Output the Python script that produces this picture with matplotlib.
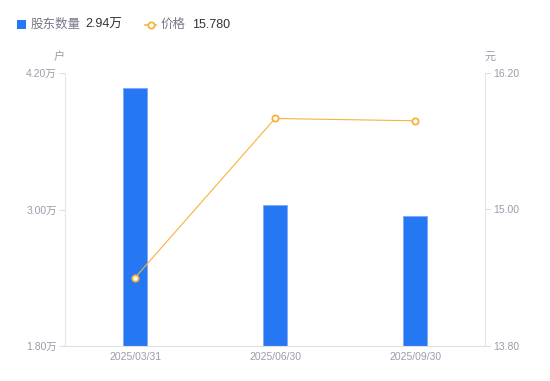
import matplotlib
matplotlib.use("Agg")
import matplotlib.pyplot as plt
from matplotlib.lines import Line2D

plt.rcParams['font.family'] = ['Liberation Sans', 'Noto Sans CJK SC', 'DejaVu Sans']

categories = ["2025/03/31", "2025/06/30", "2025/09/30"]
holders = [4.07, 3.04, 2.94]   # 万户
price = [14.40, 15.80, 15.78]
left_ticks = [1.80, 3.00, 4.20]
right_ticks = [13.80, 15.00, 16.20]

bar_color = "#2677f4"
line_color = "#f7b23b"
tick_color = "#9b9bab"

fig = plt.figure(figsize=(5.5, 3.81), dpi=100)
ax = fig.add_axes([65/550, 1-346/381, 420/550, 273/381])
x = list(range(len(categories)))
ax.bar(x, holders, width=0.175, color=bar_color, edgecolor="#7fa9f2", linewidth=0.6, zorder=2)
ax.set_xlim(-0.5, 2.5)
ax.set_ylim(1.80, 4.20)
ax.set_yticks(left_ticks)
ax.set_yticklabels([f"{v:.2f}万" for v in left_ticks])
ax.set_xticks(x)
ax.set_xticklabels(categories)

ax2 = ax.twinx()
ax2.plot(x, price, color=line_color, linewidth=0.8, marker="o", markersize=4.5,
         markerfacecolor="white", markeredgecolor=line_color, markeredgewidth=1.3, zorder=3)
ax2.set_ylim(13.80, 16.20)
ax2.set_yticks(right_ticks)
ax2.set_yticklabels([f"{v:.2f}" for v in right_ticks])

for a in (ax, ax2):
    for s in a.spines.values():
        s.set_visible(False)
ax.spines['left'].set_visible(True)
ax.spines['left'].set_color("#e6e6e6")
ax.spines['bottom'].set_visible(True)
ax.spines['bottom'].set_color("#e0e0e0")
ax2.spines['right'].set_visible(True)
ax2.spines['right'].set_color("#e6e6e6")

ax.tick_params(axis='y', colors="#e0e0e0", labelcolor=tick_color, labelsize=7.5, length=4, width=0.8, pad=2)
ax.tick_params(axis='x', length=0, labelcolor=tick_color, labelsize=7.5, pad=4)
ax2.tick_params(axis='y', colors="#e0e0e0", labelcolor=tick_color, labelsize=7.5, length=4, width=0.8, pad=2)

fig.text(59/550, 1-57/381, "户", ha='center', va='center', fontsize=8, color=tick_color)
fig.text(490/550, 1-57/381, "元", ha='center', va='center', fontsize=8, color=tick_color)

# legend
fig.patches.append(plt.Rectangle((17/550, 1-29/381), 9/550, 9/381, transform=fig.transFigure,
                                 facecolor=bar_color, edgecolor='none'))
fig.text(31/550, 1-24.5/381, "股东数量", ha='left', va='center', fontsize=9, color="#777788")
fig.text(85/550, 1-24.5/381, "2.94万", ha='left', va='center', fontsize=9, color="#333333")
fig.lines.append(Line2D([145/550, 156/550], [1-24.5/381, 1-24.5/381], transform=fig.transFigure,
                        color=line_color, linewidth=1.2))
fig.lines.append(Line2D([150.5/550], [1-24.5/381], transform=fig.transFigure,
                        color=line_color, marker="o", markersize=4.5, markerfacecolor="white",
                        markeredgewidth=1.3, linestyle='none'))
fig.text(161/550, 1-24.5/381, "价格", ha='left', va='center', fontsize=9, color="#777788")
fig.text(192/550, 1-24.5/381, "15.780", ha='left', va='center', fontsize=9, color="#333333")

fig.savefig("out.png", dpi=100)
